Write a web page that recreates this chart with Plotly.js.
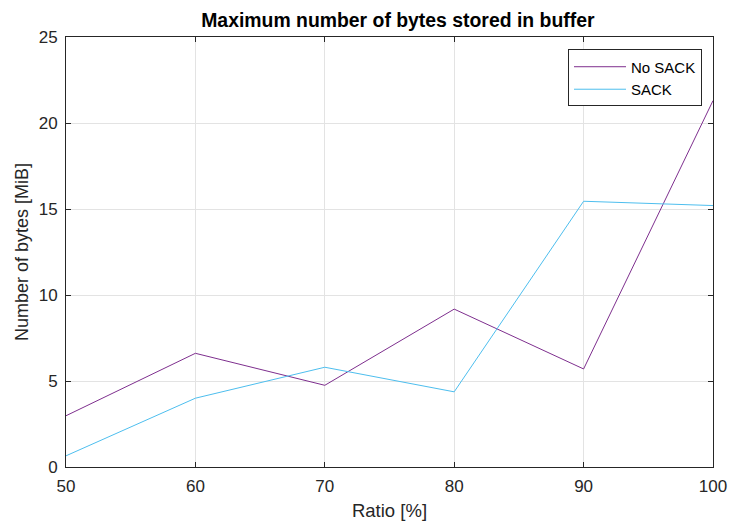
<!DOCTYPE html>
<html>
<head>
<meta charset="utf-8">
<script src="https://cdn.plot.ly/plotly-3.0.1.min.js"></script>
<style>body{margin:0;padding:0;background:#fff;} #chart{width:730px;height:525px;}</style>
</head>
<body>
<div id="chart"></div>
<script>
const ratios = [50, 60, 70, 80, 90, 100];
const noSack = [2.98, 6.61, 4.75, 9.18, 5.70, 21.3];
const sack = [0.65, 4.0, 5.8, 4.37, 15.45, 15.2];
const seriesNames = ["No SACK", "SACK"];
const xTicks = [50, 60, 70, 80, 90, 100];
const yTicks = [0, 5, 10, 15, 20, 25];

const font = "Liberation Sans, Arial, Helvetica, sans-serif";
const axisCommon = {
  showline: true, linecolor: "#262626", linewidth: 1, mirror: "ticks",
  ticks: "inside", ticklen: 5, tickcolor: "#262626", tickwidth: 1,
  showgrid: true, gridcolor: "#e3e3e3", gridwidth: 1, zeroline: false,
  tickfont: {family: font, size: 17, color: "#262626"}
};

const data = [
  {x: ratios, y: noSack, name: seriesNames[0], type: "scatter", mode: "lines",
   line: {color: "#7E2F8E", width: 1}},
  {x: ratios, y: sack, name: seriesNames[1], type: "scatter", mode: "lines",
   line: {color: "#4DBEEE", width: 1}}
];

const layout = {
  width: 730, height: 525,
  margin: {l: 66, r: 17, t: 37, b: 58},
  paper_bgcolor: "#fff", plot_bgcolor: "#fff",
  title: {text: "<b>Maximum number of bytes stored in buffer</b>", font: {family: font, size: 19.4, color: "#000"},
          x: 0.545, xanchor: "center", y: 0.962, yanchor: "middle"},
  xaxis: Object.assign({}, axisCommon, {range: [50, 100], tickvals: xTicks, ticklabelstandoff: 4,
    title: {text: "Ratio [%]", font: {family: font, size: 18.5, color: "#262626"}, standoff: 8}}),
  yaxis: Object.assign({}, axisCommon, {range: [0, 25], tickvals: yTicks, ticklabelstandoff: 4,
    title: {text: "Number of bytes [MiB]", font: {family: font, size: 18, color: "#262626"}, standoff: 5}}),
  showlegend: true,
  legend: {x: 0.983, xanchor: "right", y: 0.971, yanchor: "top",
    bgcolor: "#fff", bordercolor: "#262626", borderwidth: 1, itemwidth: 52,
    font: {family: font, size: 15, color: "#000"}, tracegroupgap: 0}
};

Plotly.newPlot("chart", data, layout, {displayModeBar: false, staticPlot: true});
</script>
</body>
</html>
